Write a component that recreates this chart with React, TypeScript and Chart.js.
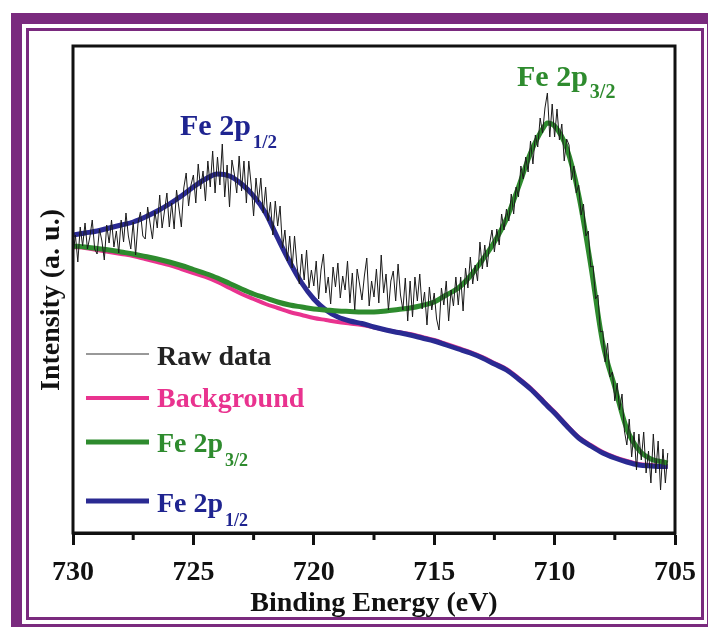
import React, { useEffect, useRef } from "react";
import { Chart, registerables } from "chart.js";

Chart.register(...registerables);

// ---------- data ----------
const xTickValues = [730, 725, 720, 715, 710, 705];
const minorTickValues = [727.5, 722.5, 717.5, 712.5, 707.5];

const rawStart = 730;
const rawStep = 0.1;
const rawIntensity = [
  278, 298, 271, 306, 287, 310, 284, 296, 313, 284,
  279, 304, 292, 273, 308, 290, 313, 286, 302, 280,
  313, 291, 320, 297, 284, 311, 278, 310, 321, 297,
  294, 326, 310, 294, 322, 305, 338, 305, 322, 340,
  306, 330, 304, 343, 325, 306, 345, 360, 327, 348,
  358, 330, 369, 344, 362, 332, 372, 346, 382, 340,
  376, 348, 389, 336, 368, 326, 373, 359, 340, 377,
  342, 372, 330, 372, 348, 317, 355, 331, 355, 320,
  346, 312, 331, 298, 332, 307, 327, 285, 303, 272,
  297, 265, 297, 268, 249, 279, 253, 283, 245, 263,
  247, 272, 234, 263, 279, 240, 256, 229, 266, 246,
  270, 235, 257, 243, 272, 230, 260, 223, 264, 249,
  233, 257, 275, 227, 252, 236, 264, 230, 278, 240,
  259, 223, 252, 262, 232, 269, 238, 223, 255, 212,
  252, 216, 256, 232, 259, 224, 241, 208, 246, 223,
  240, 214, 203, 245, 228, 252, 212, 243, 227, 256,
  228, 256, 222, 265, 245, 276, 249, 268, 252, 291,
  264, 288, 266, 289, 303, 281, 304, 288, 319, 303,
  324, 312, 339, 319, 346, 336, 367, 354, 376, 361,
  392, 369, 398, 386, 415, 400, 425, 440, 396, 429,
  396, 424, 393, 409, 372, 394, 388, 353, 367, 340,
  348, 318, 329, 297, 302, 266, 267, 234, 238, 201,
  202, 171, 190, 156, 161, 132, 150, 123, 139, 102,
  88, 114, 76, 101, 63, 99, 73, 101, 60, 82,
  50, 99, 60, 92, 43, 84, 50, 80,
];

const fitEnergy = [
  730, 729.5, 729, 728.5, 728, 727.5, 727, 726.5, 726, 725.5,
  725, 724.5, 724, 723.5, 723, 722.5, 722, 721.5, 721, 720.5,
  720, 719.5, 719, 718.5, 718, 717.5, 717, 716.5, 716, 715.5,
  715, 714.5, 714, 713.5, 713, 712.5, 712, 711.5, 711, 710.5,
  710.3, 710, 709.5, 709, 708.5, 708, 707.5, 707, 706.5, 706,
  705.5, 705.3,
];
const background = [
  286, 285, 283, 281, 279, 277, 274, 271, 268, 264,
  260, 256, 251, 245, 239, 234, 229, 225, 221, 218,
  215, 213, 211, 209.5, 208, 205.5, 203, 201, 199, 196,
  193, 189, 185, 181, 176, 170, 164, 155, 145, 133,
  128, 121, 108, 96, 88, 81, 76, 72, 69, 68,
  67, 67,
];
const fe2p32 = [
  287, 286, 284.5, 283, 281, 279, 276.5, 274, 271, 267.5,
  263.5, 259.5, 255, 249.5, 244, 239, 235, 231, 228, 226,
  224, 223, 222, 221.5, 221, 221, 222, 223.5, 225, 227.5,
  231, 238, 245, 257, 273, 291, 314, 346, 380, 404,
  410, 407, 385, 338, 268, 190, 146, 104, 83, 74,
  71, 70,
];
const fe2p12 = [
  298, 300, 302, 305, 308, 311, 316, 322, 329, 337,
  346, 354, 359, 357, 349, 337, 320, 295, 271, 250,
  234, 223, 216, 212, 209.5, 206, 203, 200.5, 198, 195,
  192, 188, 184, 180, 175, 169, 163, 154, 144, 132,
  127, 120, 107, 95, 87, 80, 75, 71, 68, 67,
  66.5, 66.5,
];

// ---------- styles ----------
const SERIF = '"Liberation Serif", "Times New Roman", serif';
const C_RAW = "#1a1a1a";
const C_BG = "#e9338f";
const C_GREEN = "#2e8b2e";
const C_BLUE = "#2a2a92";
const C_BLUE_TXT = "#1f2490";
const C_PURPLE = "#7a2a7e";

function drawSub(
  ctx: CanvasRenderingContext2D,
  main: string,
  sub: string,
  x: number,
  baseline: number,
  color: string,
  size: number,
  subSize: number,
  drop: number
) {
  ctx.save();
  ctx.fillStyle = color;
  ctx.textAlign = "left";
  ctx.textBaseline = "alphabetic";
  ctx.font = `bold ${size}px ${SERIF}`;
  ctx.fillText(main, x, baseline);
  const w = ctx.measureText(main).width;
  if (sub) {
    ctx.font = `bold ${subSize}px ${SERIF}`;
    ctx.fillText(sub, x + w + 2, baseline + drop);
  }
  ctx.restore();
}

const decorPlugin = {
  id: "decor",
  beforeDraw(chart: any) {
    const ctx: CanvasRenderingContext2D = chart.ctx;
    ctx.save();
    ctx.fillStyle = "#ffffff";
    ctx.fillRect(0, 0, chart.width, chart.height);
    // outer thick purple frame
    ctx.strokeStyle = C_PURPLE;
    ctx.lineWidth = 11;
    ctx.strokeRect(16.5, 18.5, 696, 611);
    // inner thin purple frame
    ctx.lineWidth = 3;
    ctx.strokeRect(27.5, 29.5, 675, 589);
    ctx.restore();
  },
  afterDraw(chart: any) {
    const ctx: CanvasRenderingContext2D = chart.ctx;
    const a = chart.chartArea;
    const xs = chart.scales.x;
    ctx.save();
    // plot box
    ctx.strokeStyle = "#111";
    ctx.lineWidth = 3;
    ctx.strokeRect(a.left, a.top, a.right - a.left, a.bottom - a.top);
    // minor ticks
    for (const v of minorTickValues) {
      const px = xs.getPixelForValue(v);
      ctx.beginPath();
      ctx.moveTo(px, a.bottom);
      ctx.lineTo(px, a.bottom + 7);
      ctx.stroke();
    }
    // y title
    ctx.translate(52, 300);
    ctx.rotate(-Math.PI / 2);
    ctx.fillStyle = "#111";
    ctx.font = `bold 28px ${SERIF}`;
    ctx.textAlign = "center";
    ctx.textBaseline = "middle";
    ctx.fillText("Intensity (a. u.)", 0, 0);
    ctx.restore();

    // legend
    ctx.save();
    ctx.lineCap = "butt";
    const lx0 = 86;
    const lx1 = 149;
    const entries = [
      { y: 354, w: 1, c: "#333", main: "Raw data", sub: "", tc: "#222", base: 365 },
      { y: 398, w: 4, c: C_BG, main: "Background", sub: "", tc: C_BG, base: 407 },
      { y: 442, w: 5, c: C_GREEN, main: "Fe 2p", sub: "3/2", tc: C_GREEN, base: 452 },
      { y: 501, w: 5, c: C_BLUE, main: "Fe 2p", sub: "1/2", tc: C_BLUE_TXT, base: 512 },
    ];
    for (const e of entries) {
      ctx.strokeStyle = e.c;
      ctx.lineWidth = e.w;
      ctx.beginPath();
      ctx.moveTo(lx0, e.y);
      ctx.lineTo(lx1, e.y);
      ctx.stroke();
      drawSub(ctx, e.main, e.sub, 157, e.base, e.tc, 28, 18, 14);
    }
    ctx.restore();

    // peak annotations
    drawSub(ctx, "Fe 2p", "1/2", 180, 135, C_BLUE_TXT, 30, 19, 13);
    drawSub(ctx, "Fe 2p", "3/2", 517, 86, C_GREEN, 30, 20, 12);
  },
};

export default function App() {
  const ref = useRef<HTMLCanvasElement | null>(null);

  useEffect(() => {
    if (!ref.current) return;
    const rawPoints = rawIntensity.map((v, i) => ({
      x: Number((rawStart - i * rawStep).toFixed(1)),
      y: v,
    }));
    const toPts = (arr: number[]) => arr.map((v, i) => ({ x: fitEnergy[i], y: v }));

    const chart = new Chart(ref.current, {
      type: "line",
      data: {
        datasets: [
          {
            label: "Raw data",
            data: rawPoints,
            borderColor: C_RAW,
            borderWidth: 1,
            pointRadius: 0,
            tension: 0,
            order: 0,
          },
          {
            label: "Fe 2p3/2",
            data: toPts(fe2p32),
            borderColor: C_GREEN,
            borderWidth: 5,
            pointRadius: 0,
            cubicInterpolationMode: "monotone",
            order: 1,
          },
          {
            label: "Fe 2p1/2",
            data: toPts(fe2p12),
            borderColor: C_BLUE,
            borderWidth: 5,
            pointRadius: 0,
            cubicInterpolationMode: "monotone",
            order: 2,
          },
          {
            label: "Background",
            data: toPts(background),
            borderColor: C_BG,
            borderWidth: 4,
            pointRadius: 0,
            cubicInterpolationMode: "monotone",
            order: 3,
          },
        ],
      },
      options: {
        responsive: false,
        animation: false,
        events: [],
        layout: { padding: { left: 73, top: 46, right: 33, bottom: 0 } },
        plugins: {
          legend: { display: false },
          tooltip: { enabled: false },
        },
        scales: {
          x: {
            type: "linear",
            reverse: true,
            min: 705,
            max: 730,
            afterFit: (s: any) => {
              s.height = 94;
            },
            afterBuildTicks: (s: any) => {
              s.ticks = xTickValues.map((v) => ({ value: v }));
            },
            border: { display: true, color: "#111", width: 3 },
            grid: {
              display: true,
              drawOnChartArea: false,
              drawTicks: true,
              tickLength: 12,
              tickWidth: 3,
              tickColor: "#111",
              color: "#111",
            },
            ticks: {
              color: "#111",
              padding: 11,
              maxRotation: 0,
              autoSkip: false,
              font: { family: SERIF, size: 28, weight: "bold" },
              callback: (v: any) => String(v),
            },
            title: {
              display: true,
              text: "Binding Energy (eV)",
              color: "#111",
              font: { family: SERIF, size: 28, weight: "bold" },
              padding: { top: 0, bottom: 6 },
            },
          },
          y: {
            display: false,
            min: 0,
            max: 487,
          },
        },
      },
      plugins: [decorPlugin],
    } as any);
    return () => chart.destroy();
  }, []);

  return (
    <div style={{ position: "absolute", left: 0, top: 0, width: 708, height: 627 }}>
      <canvas ref={ref} width={708} height={627} style={{ display: "block" }} />
    </div>
  );
}
